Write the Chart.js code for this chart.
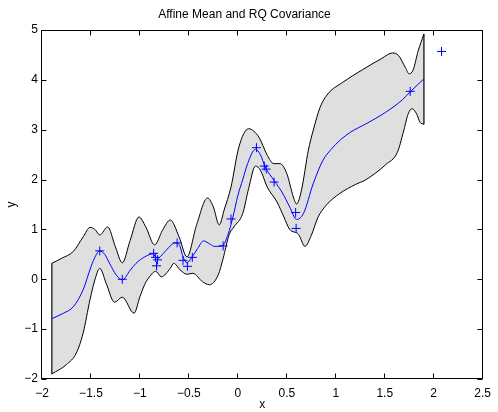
<!DOCTYPE html>
<html>
<head>
<meta charset="utf-8">
<script src="https://cdn.jsdelivr.net/npm/chart.js@4.4.1/dist/chart.umd.min.js"></script>
<style>
  html, body { margin: 0; padding: 0; background: #fff; }
  #wrap { width: 498px; height: 412px; }
</style>
</head>
<body>
<div id="wrap"><canvas id="gpChart" width="498" height="412"></canvas></div>
<script>
// GP posterior: mean curve, +/- band edges, and the training points
const meanX = [-1.90, -1.78, -1.68, -1.58, -1.50, -1.45, -1.41, -1.36, -1.31, -1.24, -1.18, -1.10, -1.04,
  -0.95, -0.87, -0.82, -0.76, -0.71, -0.64, -0.60, -0.56, -0.52, -0.47, -0.41, -0.35, -0.28, -0.24,
  -0.16, -0.10, -0.05, 0.00, 0.05, 0.10, 0.18, 0.23, 0.28, 0.37, 0.45, 0.53, 0.60, 0.67, 0.77, 0.87,
  0.95, 1.05, 1.15, 1.31, 1.51, 1.68, 1.76, 1.90];
const meanY = [-0.79, -0.68, -0.55, -0.21, 0.25, 0.48, 0.57, 0.50, 0.32, 0.08, -0.01, 0.18, 0.32,
  0.45, 0.51, 0.42, 0.52, 0.63, 0.73, 0.70, 0.45, 0.33, 0.44, 0.62, 0.77, 0.70, 0.66,
  0.67, 0.90, 1.25, 1.68, 2.00, 2.32, 2.61, 2.50, 2.25, 1.98, 1.75, 1.45, 1.20, 1.32, 1.92, 2.39,
  2.60, 2.80, 2.95, 3.12, 3.35, 3.60, 3.76, 4.02];

const upperX = [-1.90, -1.80, -1.68, -1.58, -1.51, -1.46, -1.41, -1.33, -1.25, -1.18, -1.10, -1.01,
  -0.94, -0.85, -0.77, -0.69, -0.60, -0.52, -0.42, -0.31, -0.25, -0.19, -0.14, -0.07, 0.01, 0.11,
  0.215, 0.30, 0.366, 0.43, 0.50, 0.567, 0.60, 0.65, 0.72, 0.77, 0.84, 0.92, 1.07, 1.27, 1.47,
  1.58, 1.64, 1.71, 1.75, 1.79, 1.84, 1.90];
const upperY = [0.32, 0.42, 0.56, 0.85, 1.04, 1.00, 0.89, 1.05, 0.65, 0.33, 0.78, 1.25,
  1.05, 0.69, 0.98, 1.19, 0.85, 0.45, 1.10, 1.63, 1.45, 1.09, 1.39, 1.85, 2.65, 3.02,
  2.85, 2.49, 2.32, 2.32, 2.12, 1.65, 1.51, 1.79, 2.59, 2.99, 3.45, 3.72, 3.95, 4.20, 4.43,
  4.54, 4.49, 4.25, 4.12, 4.20, 4.57, 4.92];

const lowerX = [-1.90, -1.75, -1.65, -1.58, -1.51, -1.46, -1.41, -1.345, -1.26, -1.18, -1.06,
  -1.00, -0.95, -0.89, -0.84, -0.78, -0.69, -0.655, -0.59, -0.52, -0.46, -0.36, -0.29, -0.20,
  -0.15, -0.09, -0.04, 0.05, 0.11, 0.18, 0.23, 0.30, 0.40, 0.47, 0.53, 0.62, 0.685, 0.75, 0.82,
  0.90, 1.04, 1.20, 1.31, 1.51, 1.63, 1.69, 1.74, 1.78, 1.825, 1.86, 1.90];
const lowerY = [-1.90, -1.71, -1.48, -1.08, -0.41, -0.01, 0.22, -0.08, -0.46, -0.36, -0.68,
  -0.35, -0.10, 0.08, 0.16, 0.05, 0.22, 0.32, 0.19, 0.10, 0.12, -0.05, -0.11, 0.09,
  0.42, 0.89, 1.05, 1.32, 1.82, 2.27, 2.19, 1.85, 1.55, 1.25, 1.00, 0.90, 0.66, 0.88, 1.25,
  1.48, 1.72, 1.90, 2.00, 2.30, 2.55, 2.95, 3.32, 3.42, 3.32, 3.15, 3.11];

const obsX = [-1.41, -1.18, -0.86, -0.84, -0.82, -0.83, -0.62, -0.56, -0.515, -0.465, -0.15, -0.07,
  0.19, 0.27, 0.29, 0.37, 0.59, 0.595, 1.76, 2.08];
const obsY = [0.57, 0.00, 0.52, 0.44, 0.39, 0.27, 0.73, 0.38, 0.26, 0.44, 0.67, 1.21,
  2.64, 2.27, 2.21, 1.95, 1.34, 1.02, 3.77, 4.57];

const xTicks = [-2, -1.5, -1, -0.5, 0, 0.5, 1, 1.5, 2, 2.5];
const yTicks = [-2, -1, 0, 1, 2, 3, 4, 5];

const BLUE = "#0000ff";
const BAND = "#dfdfdf";

const toPoints = (xs, ys) => xs.map((x, i) => ({ x: x, y: ys[i] }));
const minusSign = (v) => String(v).replace("-", "\u2212");

// box around the plot area with inward ticks on all four sides
const axesFrame = {
  id: "axesFrame",
  afterDatasetsDraw(chart) {
    const { ctx, chartArea: a, scales } = chart;
    const L = Math.round(a.left) - 0.5, R = Math.round(a.right) - 0.5;
    const T = Math.round(a.top) + 0.5, B = Math.round(a.bottom) - 0.5;
    const len = 5;
    ctx.save();
    ctx.strokeStyle = "#000";
    ctx.lineWidth = 1;
    ctx.beginPath();
    ctx.rect(L, T, R - L, B - T);
    xTicks.forEach((v) => {
      const px = Math.round(scales.x.getPixelForValue(v)) - 0.5;
      ctx.moveTo(px, B); ctx.lineTo(px, B - len);
      ctx.moveTo(px, T); ctx.lineTo(px, T + len);
    });
    yTicks.forEach((v) => {
      const py = Math.round(scales.y.getPixelForValue(v)) + 0.5;
      ctx.moveTo(L, py); ctx.lineTo(L + len, py);
      ctx.moveTo(R, py); ctx.lineTo(R - len, py);
    });
    ctx.stroke();
    ctx.restore();
  },
};

Chart.defaults.font.family = '"Liberation Sans", Arial, Helvetica, sans-serif';
Chart.defaults.font.size = 12;
Chart.defaults.color = "#000";

const ctx = document.getElementById("gpChart").getContext("2d");

new Chart(ctx, {
  type: "line",
  data: {
    datasets: [
      {
        label: "data",
        data: toPoints(obsX, obsY),
        showLine: false,
        borderColor: BLUE,
        backgroundColor: BLUE,
        pointStyle: "cross",
        pointRadius: 4.5,
        pointBorderColor: BLUE,
        pointBackgroundColor: BLUE,
        pointBorderWidth: 1,
        clip: false,
      },
      {
        label: "mean",
        data: toPoints(meanX, meanY),
        borderColor: BLUE,
        borderWidth: 1,
        pointRadius: 0,
        cubicInterpolationMode: "monotone",
      },
      {
        label: "upper",
        data: toPoints(upperX, upperY),
        borderColor: "#000",
        borderWidth: 1,
        pointRadius: 0,
        cubicInterpolationMode: "monotone",
        fill: "+1",
        backgroundColor: BAND,
      },
      {
        label: "lower",
        data: toPoints(lowerX, lowerY),
        borderColor: "#000",
        borderWidth: 1,
        pointRadius: 0,
        cubicInterpolationMode: "monotone",
      },
      {
        label: "left edge",
        data: [{ x: upperX[0], y: upperY[0] }, { x: lowerX[0], y: lowerY[0] }],
        borderColor: "#333",
        borderWidth: 0.8,
        pointRadius: 0,
        tension: 0,
      },
      {
        label: "right edge",
        data: [
          { x: upperX[upperX.length - 1], y: upperY[upperY.length - 1] },
          { x: lowerX[lowerX.length - 1], y: lowerY[lowerY.length - 1] },
        ],
        borderColor: "#333",
        borderWidth: 0.8,
        pointRadius: 0,
        tension: 0,
      },
    ],
  },
  options: {
    responsive: false,
    animation: false,
    layout: { padding: { top: 0, right: 9, bottom: 0, left: 0 } },
    plugins: {
      legend: { display: false },
      tooltip: { enabled: false },
      filler: { drawTime: "beforeDatasetsDraw" },
      title: {
        display: true,
        text: "Affine Mean and RQ Covariance",
        font: { size: 12, weight: "normal" },
        color: "#000",
        padding: { top: 7, bottom: 8.6 },
      },
    },
    scales: {
      x: {
        type: "linear",
        min: -2,
        max: 2.5,
        grid: { display: false, drawTicks: false },
        border: { display: false },
        afterBuildTicks: (scale) => { scale.ticks = xTicks.map((v) => ({ value: v })); },
        afterFit: (scale) => { scale.height = 33; },
        ticks: { padding: 7, maxRotation: 0, callback: (v) => minusSign(v) },
        title: { display: true, text: "x", padding: 0 },
      },
      y: {
        type: "linear",
        min: -2,
        max: 5,
        grid: { display: false, drawTicks: false },
        border: { display: false },
        afterBuildTicks: (scale) => { scale.ticks = yTicks.map((v) => ({ value: v })); },
        afterFit: (scale) => { scale.width = 42; },
        ticks: { padding: 4, callback: (v) => minusSign(v) },
        title: { display: true, text: "y", padding: { top: 4, bottom: 0 } },
      },
    },
  },
  plugins: [axesFrame],
});
</script>
</body>
</html>
